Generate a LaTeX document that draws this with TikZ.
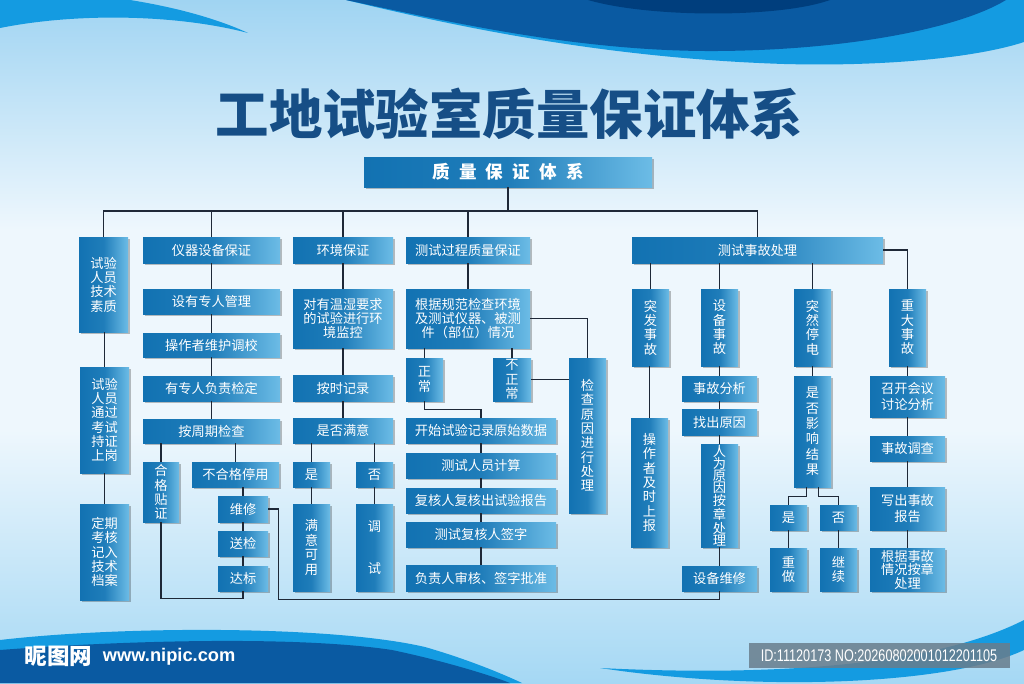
\documentclass[tikz,border=0pt]{standalone}
\usepackage{fontspec}
\setmainfont{Noto Sans CJK SC}
\newfontfamily\idfont[FakeStretch=0.75]{Liberation Sans}
\newfontfamily\urlfont{Liberation Sans}
\usetikzlibrary{calc,shadows}
\definecolor{boxdark}{RGB}{18,114,178}
\definecolor{boxlight}{RGB}{108,188,230}
\definecolor{linecol}{RGB}{30,40,55}
\definecolor{titleblue}{RGB}{22,78,134}
\definecolor{bgtop}{RGB}{160,212,242}
\definecolor{bgmid}{RGB}{238,247,253}
\definecolor{bgbot}{RGB}{165,216,244}
\definecolor{wavedark}{RGB}{10,90,162}
\definecolor{wavedeep}{RGB}{0,62,125}
\definecolor{wavebright}{RGB}{20,155,225}
\definecolor{idgray}{RGB}{105,125,140}
\tikzset{
  box/.style={left color=boxdark, right color=boxlight, middle color=boxdark!85!boxlight,
    text=white, inner sep=0pt, align=center, font=\fontsize{9.4}{10.2}\selectfont,
    drop shadow={shadow xshift=1.2pt, shadow yshift=-1.2pt, opacity=0.25, fill=black}},
  sz/.style 2 args={minimum width=#1*0.025cm, minimum height=#2*0.025cm},
  link/.style={draw=linecol, line width=0.9pt},
}

\begin{document}
\begin{tikzpicture}[x=0.025cm, y=-0.025cm]
  \useasboundingbox (0,0) rectangle (1024,683);
  \clip (0,0) rectangle (1024,683);
  % background and waves
  \fill[bgmid] (0,0) rectangle (1024,683);
  \shade[top color=bgtop, bottom color=bgmid] (0,0) rectangle (1024,230);
  \shade[top color=bgmid, bottom color=bgbot] (0,430) rectangle (1024,683);
  \fill[wavebright] (346,0) .. controls (450,25) and (600,58) .. (784,64) .. controls (900,67) and (985,55) .. (1024,42) -- (1024,0) -- cycle;
  \fill[wavedark] (346,0) .. controls (450,22) and (580,52) .. (718,51) .. controls (850,50) and (960,28) .. (1006,0) -- cycle;
  \fill[wavedeep] (588,0) .. controls (650,18) and (780,18) .. (830,0) -- cycle;
  \fill[wavebright] (0,0) -- (130,0) .. controls (180,8) and (220,20) .. (248,33) .. controls (180,15) and (80,12) .. (0,28) -- cycle;
  \fill[wavebright] (0,640) .. controls (120,626) and (330,625) .. (425,647) .. controls (470,660) and (505,675) .. (522,683) -- (0,683) -- cycle;
  \fill[wavedark] (0,650) .. controls (130,640) and (300,636) .. (392,650) .. controls (440,660) and (490,675) .. (510,683) -- (0,683) -- cycle;
  \fill[wavebright] (600,668) .. controls (760,676) and (930,668) .. (1024,620) -- (1024,650) .. controls (950,685) and (760,692) .. (600,668) -- cycle;

  \node[text=titleblue, font=\bfseries\fontsize{38}{40}\selectfont] (title) at (509.5,114) {工地试验室质量保证体系};
  \node[box, sz={288}{30}, font=\bfseries\fontsize{12.5}{13}\selectfont] (top) at (508,172)
    {质\hspace{6.5pt}量\hspace{6.5pt}保\hspace{6.5pt}证\hspace{6.5pt}体\hspace{6.5pt}系};

  % second level
  \node[box, sz={49}{95}] (ry) at (103.5,284.5) {试验\\人员\\技术\\素质};
  \node[box, sz={137}{26}] (yq) at (211.5,250) {仪器设备保证};
  \node[box, sz={100}{26}] (hj) at (343,250) {环境保证};
  \node[box, sz={124}{26}] (cs) at (468,250) {测试过程质量保证};
  \node[box, sz={251}{26}] (sg) at (757.5,250) {测试事故处理};

  % personnel
  \node[box, sz={49}{106}] (ry2) at (104.5,420) {试验\\人员\\通过\\考试\\持证\\上岗};
  \node[box, sz={49}{96}] (ry3) at (104.5,552) {定期\\考核\\记入\\技术\\档案};

  % instruments
  \node[box, sz={137}{25}] (gl) at (211.5,301.5) {设有专人管理};
  \node[box, sz={137}{24}] (tj) at (211.5,345) {操作者维护调校};
  \node[box, sz={137}{25}] (jd) at (211.5,388.5) {有专人负责检定};
  \node[box, sz={137}{24}] (zq) at (211.5,431) {按周期检查};
  \node[box, sz={36}{60}] (hg) at (161,492) {合\\格\\贴\\证};
  \node[box, sz={87}{25}] (bh) at (235.5,474.5) {不合格停用};
  \node[box, sz={50}{26}] (wx) at (243,509) {维修};
  \node[box, sz={50}{25}] (sj) at (243,543.5) {送检};
  \node[box, sz={50}{25}] (db) at (243,578.5) {达标};

  % environment
  \node[box, sz={100}{59}] (jk) at (343,318.5) {对有温湿要求\\的试验进行环\\境监控};
  \node[box, sz={100}{26}] (jl) at (343,388) {按时记录};
  \node[box, sz={100}{25}] (my) at (343,430.5) {是否满意};
  \node[box, sz={37}{25}] (s1) at (311.5,474.5) {是};
  \node[box, sz={37}{25}] (f1) at (374.5,474.5) {否};
  \node[box, sz={37}{87}] (ky) at (311.5,547.5) {满\\意\\可\\用};
  \node[box, sz={37}{87}] (ts) at (374.5,547.5) {调\\[20pt]试};

  % test process
  \node[box, sz={124}{59}] (gj) at (468,318.5) {根据规范检查环境\\及测试仪器、被测\\件（部位）情况};
  \node[box, sz={37}{43}] (zc) at (424.5,379.5) {正\\常};
  \node[box, sz={38}{43}] (bz) at (512,379.5) {不\\正\\常};
  \node[box, sz={150}{25}] (ks) at (481,430.5) {开始试验记录原始数据};
  \node[box, sz={150}{25}] (js) at (481,465.5) {测试人员计算};
  \node[box, sz={150}{25}] (bg) at (481,500.5) {复核人复核出试验报告};
  \node[box, sz={150}{25}] (qz) at (481,534.5) {测试复核人签字};
  \node[box, sz={150}{26}] (pz) at (481,578) {负责人审核、签字批准};
  \node[box, sz={37}{155}] (jc) at (587.5,435.5) {检\\查\\原\\因\\进\\行\\处\\理};

  % accidents
  \node[box, sz={37}{77}] (tf) at (650.5,327.5) {突\\发\\事\\故};
  \node[box, sz={37}{77}] (sb) at (719.5,327.5) {设\\备\\事\\故};
  \node[box, sz={37}{77}] (td) at (812.5,327.5) {突\\然\\停\\电};
  \node[box, sz={37}{77}] (zd) at (907.5,327.5) {重\\大\\事\\故};
  \node[box, sz={37}{129}] (cz) at (649.5,482.5) {操\\作\\者\\及\\时\\上\\报};
  \node[box, sz={75}{25}] (fx) at (719.5,388.5) {事故分析};
  \node[box, sz={75}{26}] (yy) at (719.5,422) {找出原因};
  \node[box, sz={37}{103}, font=\fontsize{9.4}{8.6}\selectfont] (rw) at (719.5,495.5) {人\\为\\原\\因\\按\\章\\处\\理};
  \node[box, sz={75}{25}] (wx2) at (719.5,578.5) {设备维修};
  \node[box, sz={37}{111}, font=\fontsize{9.4}{11}\selectfont] (yx) at (812.5,431.5) {是\\否\\影\\响\\结\\果};
  \node[box, sz={37}{25}] (s2) at (788.5,517.5) {是};
  \node[box, sz={37}{25}] (f2) at (838.5,517.5) {否};
  \node[box, sz={37}{43}] (cz2) at (788.5,569.5) {重\\做};
  \node[box, sz={37}{43}] (jx) at (838.5,569.5) {继\\续};
  \node[box, sz={75}{41}, font=\fontsize{9.4}{10.8}\selectfont] (hy) at (907.5,396.5) {召开会议\\讨论分析};
  \node[box, sz={75}{25}] (dc) at (907.5,448.5) {事故调查};
  \node[box, sz={75}{43}, font=\fontsize{9.4}{10.8}\selectfont] (xb) at (907.5,508.5) {写出事故\\报告};
  \node[box, sz={75}{43}, font=\fontsize{9.4}{9.6}\selectfont] (az) at (907.5,569.5) {根据事故\\情况按章\\处理};

  % connectors
  \coordinate (bus) at (0,211);
  \draw[link] (top.south) -- (top.south |- bus);
  \draw[link] (ry.north) |- (sg.north |- bus) -- (sg.north);
  \foreach \n in {yq,hj,cs}
    \draw[link] (\n.north) -- (\n.north |- bus);
  \foreach \a/\b in {ry/ry2, ry2/ry3, yq/gl, gl/tj, tj/jd, jd/zq, zq/hg, zq/bh, bh/wx, wx/sj, sj/db,
      hj/jk, jk/jl, jl/my, my/s1, my/f1, s1/ky, f1/ts, cs/gj, gj/zc, gj/bz, ks/js, js/bg, bg/qz, qz/pz,
      sg/tf, sg/sb, sg/td, tf/cz, sb/fx, fx/yy, yy/rw, rw/wx2, td/yx, s2/cz2, f2/jx, zd/hy, hy/dc, dc/xb, xb/az}
    \draw[link] (\b.north) -- (\b.north |- \a.south);
  \draw[link] (hg.south) |- ($(db.south)+(0,7)$) -- (db.south);
  \draw[link] (wx.east) -- ++(10,0) |- ($(wx2.south)+(0,8)$) -- (wx2.south);
  \draw[link] (zc.south) -- ++(0,8) -| (ks.north);
  \draw[link] (gj.east) -| (jc.north);
  \draw[link] (bz.east) -- (bz.east -| jc.west);
  \draw[link] (sg.east) -| (zd.north);
  \draw[link] ($(yx.south)+(-6,0)$) -- ++(0,9) -| (s2.north);
  \draw[link] ($(yx.south)+(6,0)$) -- ++(0,9) -| (f2.north);

  % watermark
  \node[text=white, font=\bfseries\fontsize{16}{16}\selectfont, anchor=west] (wm) at (20,656) {昵图网};
  \node[text=white, font=\urlfont\bfseries\fontsize{13}{13}\selectfont, anchor=west] (url) at (98,657) {www.nipic.com};
  \node[fill=idgray, fill opacity=0.85, text opacity=1, text=white, sz={261}{25}, inner sep=0pt,
    font=\idfont\fontsize{12}{12}\selectfont] (idtag) at (879,655.5) {ID:11120173 NO:20260802001012201105};
\end{tikzpicture}
\end{document}
